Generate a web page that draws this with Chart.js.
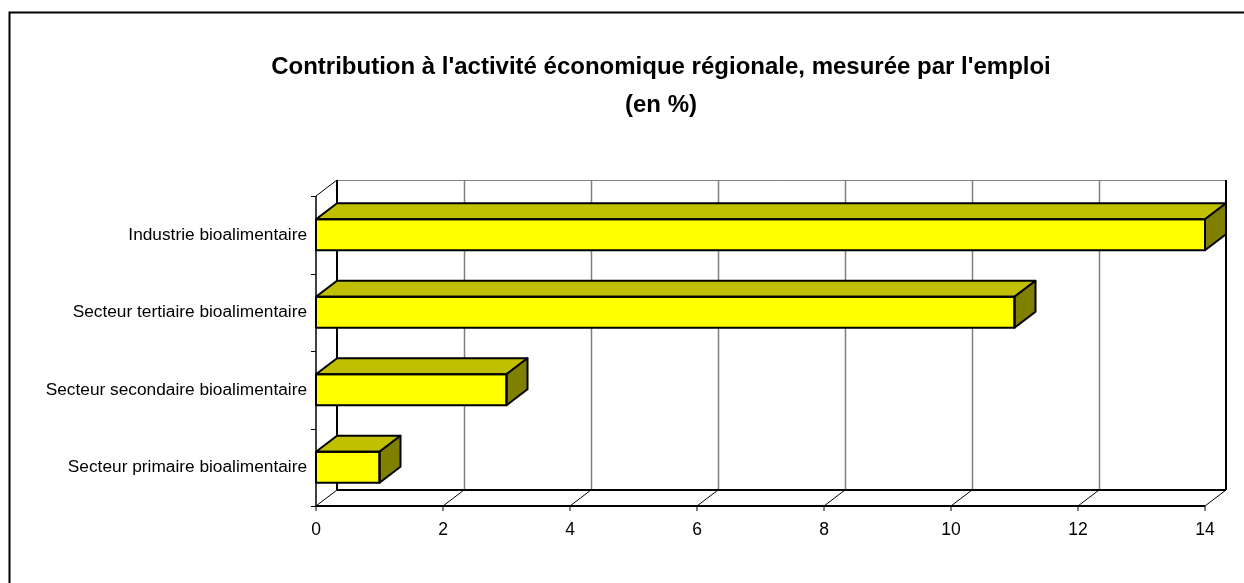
<!DOCTYPE html>
<html>
<head>
<meta charset="utf-8">
<script src="https://cdn.jsdelivr.net/npm/chart.js@4.4.1/dist/chart.umd.min.js"></script>
<style>
  html, body { margin: 0; padding: 0; background: #fff; }
</style>
</head>
<body>
<canvas id="emploi-chart" width="1244" height="583"></canvas>
<script>
const categories = [
  'Industrie bioalimentaire',
  'Secteur tertiaire bioalimentaire',
  'Secteur secondaire bioalimentaire',
  'Secteur primaire bioalimentaire'
];
const values = [14, 11, 3, 1];
const xMin = 0;
const xMax = 14;
const xStep = 2;
const titleLines = [
  "Contribution à l'activité économique régionale, mesurée par l'emploi",
  '(en %)'
];

// depth of the 3D box (back wall offset)
const DX = 21, DY = -16;
const labelFont = "'Liberation Sans', Arial, sans-serif";

function line(ctx, x1, y1, x2, y2, color, width) {
  ctx.beginPath();
  ctx.moveTo(x1, y1);
  ctx.lineTo(x2, y2);
  ctx.strokeStyle = color;
  ctx.lineWidth = width;
  ctx.stroke();
}

function poly(ctx, pts, fill) {
  ctx.beginPath();
  ctx.moveTo(pts[0][0], pts[0][1]);
  pts.slice(1).forEach(p => ctx.lineTo(p[0], p[1]));
  ctx.closePath();
  ctx.fillStyle = fill;
  ctx.fill();
  ctx.strokeStyle = '#000';
  ctx.lineWidth = 2;
  ctx.lineJoin = 'round';
  ctx.stroke();
}

const box3d = {
  id: 'box3d',
  beforeDraw(chart) {
    const ctx = chart.ctx;
    ctx.save();
    ctx.strokeStyle = '#000';
    ctx.lineWidth = 2;
    ctx.strokeRect(9.5, 12.5, 1300, 700);
    // title, centred over the plot like the original
    ctx.fillStyle = '#000';
    ctx.font = "bold 24px 'Liberation Sans', Arial, sans-serif";
    ctx.textAlign = 'center';
    ctx.textBaseline = 'alphabetic';
    ctx.fillText(titleLines[0], 661, 74);
    ctx.fillText(titleLines[1], 661, 112);
    ctx.restore();
  },
  beforeDatasetsDraw(chart) {
    const ctx = chart.ctx;
    const { left, right, top, bottom } = chart.chartArea;
    const xs = chart.scales.x;
    ctx.save();
    // back wall gridlines
    for (let v = xMin + xStep; v < xMax; v += xStep) {
      const px = Math.round(xs.getPixelForValue(v)) + DX + 0.5;
      line(ctx, px, top + DY, px, bottom + DY, '#808080', 1.5);
    }
    line(ctx, left + DX, top + DY + 0.5, right + DX, top + DY + 0.5, '#808080', 1);
    // left and right walls
    line(ctx, left + DX, top + DY, left + DX, bottom + DY, '#000', 2);
    line(ctx, right + DX, top + DY, right + DX, bottom + DY, '#000', 2);
    line(ctx, left, top, left + DX, top + DY, '#000', 1);
    line(ctx, left, top, left, bottom, '#000', 1.5);
    // floor
    line(ctx, left + DX, bottom + DY, right + DX, bottom + DY, '#000', 2);
    line(ctx, left, bottom, right, bottom, '#000', 2);
    for (let v = xMin; v <= xMax; v += xStep) {
      const px = xs.getPixelForValue(v);
      line(ctx, px, bottom, px + DX, bottom + DY, '#000', 1);
      line(ctx, px, bottom, px, bottom + 5, '#000', 1);
    }
    // category tick marks on the left
    const band = (bottom - top) / categories.length;
    for (let i = 0; i <= categories.length; i++) {
      const py = Math.round(top + i * band) + 0.5;
      line(ctx, left - 5, py, left, py, '#000', 1);
    }
    ctx.restore();
  },
  afterDatasetsDraw(chart) {
    const ctx = chart.ctx;
    const meta = chart.getDatasetMeta(0);
    ctx.save();
    meta.data.forEach(bar => {
      const { x, y, base, height } = bar.getProps(['x', 'y', 'base', 'height'], true);
      const t = y - height / 2, b = y + height / 2;
      // top face
      poly(ctx, [[base, t], [x, t], [x + DX, t + DY], [base + DX, t + DY]], '#C0C000');
      // end face
      poly(ctx, [[x, t], [x + DX, t + DY], [x + DX, b + DY], [x, b]], '#808000');
      // front outline
      ctx.strokeStyle = '#000';
      ctx.lineWidth = 2;
      ctx.strokeRect(base, t, x - base, b - t);
    });
    ctx.restore();
  }
};

new Chart(document.getElementById('emploi-chart'), {
  type: 'bar',
  data: {
    labels: categories,
    datasets: [{
      data: values,
      backgroundColor: '#FFFF00',
      borderWidth: 0,
      categoryPercentage: 1,
      barPercentage: 0.4
    }]
  },
  options: {
    indexAxis: 'y',
    responsive: false,
    animation: false,
    devicePixelRatio: 1,
    layout: { padding: { left: 0, right: 39, top: 196, bottom: 0 } },
    plugins: {
      legend: { display: false },
      tooltip: { enabled: false },
      title: { display: false }
    },
    scales: {
      x: {
        min: xMin,
        max: xMax,
        grid: { display: false, drawTicks: false },
        border: { display: false },
        ticks: { stepSize: xStep, padding: 14, color: '#000', font: { family: labelFont, size: 17.5 } },
        afterFit(scale) { scale.height = 77; }
      },
      y: {
        grid: { display: false, drawTicks: false },
        border: { display: false },
        ticks: { padding: 9, color: '#000', font: { family: labelFont, size: 17.3 } },
        afterFit(scale) { scale.width = 316; }
      }
    }
  },
  plugins: [box3d]
});
</script>
</body>
</html>
